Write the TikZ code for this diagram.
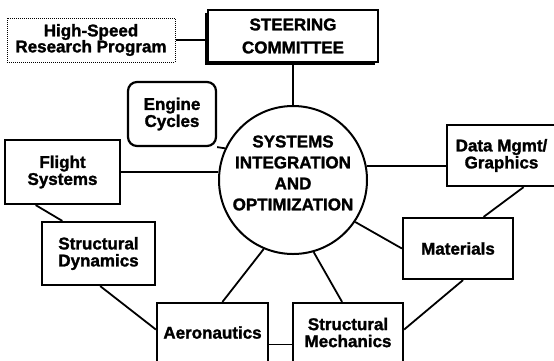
\documentclass[tikz,border=0pt]{standalone}
\usepackage{fontspec}
\setmainfont{Liberation Sans}[BoldFeatures={FakeBold=1.5}]
\usetikzlibrary{positioning,shadows}

\begin{document}
\begin{tikzpicture}[
  x=1pt, y=-1pt,
  box/.style={draw, line width=2.2pt, fill=white, align=center, inner sep=0pt,
              font=\fontsize{17}{17}\selectfont\bfseries},
  bigtext/.style={align=center, font=\fontsize{17}{21}\selectfont\bfseries},
  link/.style={line width=1.8pt}
]
  \useasboundingbox (0,0) rectangle (554,360);

  \node[box, line width=1pt, densely dotted, minimum width=168pt, minimum height=44pt]
    (hsrp) at (91,40) {High-Speed\\[-1pt]Research Program};
  \node[box, minimum width=170pt, minimum height=52pt,
        drop shadow={shadow xshift=-3pt, shadow yshift=-3pt, opacity=1, fill=black}]
    (steer) at (293,36) {STEERING\\[6pt]COMMITTEE};

  \node[circle, draw, line width=2pt, minimum size=148pt, inner sep=0pt] (sio) at (293,180) {};
  \node[bigtext] (siotext) at ([yshift=7pt]sio.center)
    {SYSTEMS\\INTEGRATION\\AND\\OPTIMIZATION};

  \node[box, rounded corners=9pt, minimum width=88pt, minimum height=64pt]
    (engine) at (172,114) {Engine\\Cycles};
  \node[box, minimum width=115pt, minimum height=64pt] (flight) at (62.5,172) {Flight\\Systems};
  \node[box, minimum width=113pt, minimum height=63pt] (sdyn) at (98.5,253.5) {Structural\\Dynamics};
  \node[box, minimum width=111pt, minimum height=59pt] (aero) at (212.5,332.5) {Aeronautics};
  \node[box, minimum width=110pt, minimum height=59pt] (smech) at (348,332.5) {Structural\\Mechanics};
  \node[box, minimum width=110pt, minimum height=61pt] (mater) at (458,248.5) {Materials};
  \node[box, minimum width=109pt, minimum height=61pt] (data) at (501.5,155.5) {Data Mgmt/\\Graphics};

  \draw[link] (hsrp.east) -- (hsrp.east -| steer.west);
  \draw[link] (steer.south) -- (sio.north);
  \draw[link] (engine.south east) -- (sio.155);
  \draw[link] (flight.east) -- (flight.east -| sio.west);
  \draw[link] (flight.231) -- (sdyn.138);
  \draw[link] (sdyn.273) -- (aero.177);
  \draw[link] (sio.247) -- (aero.72);
  \draw[link] (sio.286) -- (smech.101);
  \draw[link] ([yshift=-12pt]aero.east) -- ([yshift=-12pt]aero.east -| smech.west);
  \draw[link] (sio.326) -- (mater.west);
  \draw[link] (mater.279) -- (smech.3);
  \draw[link] (sio.11) -- (sio.11 -| data.west);
  \draw[link] (data.305) -- (mater.51);
\end{tikzpicture}
\end{document}
